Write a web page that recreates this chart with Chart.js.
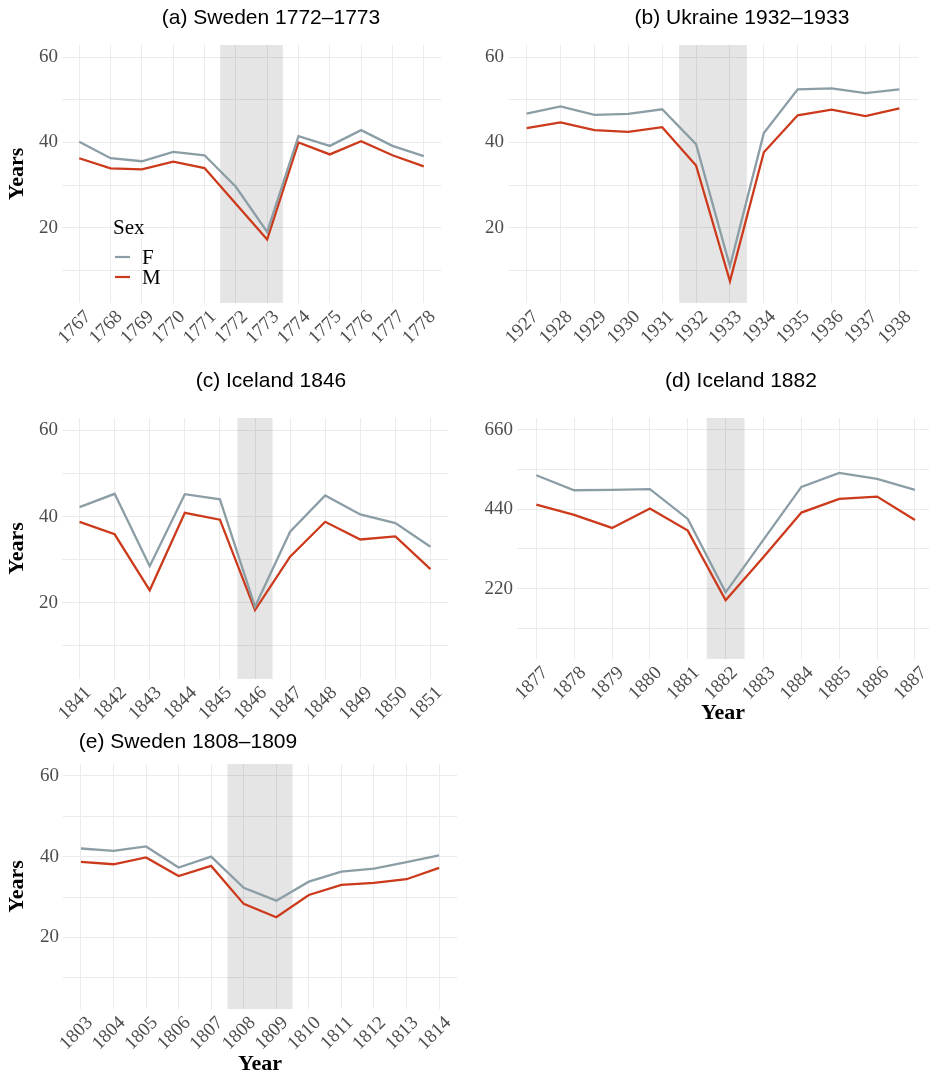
<!DOCTYPE html>
<html>
<head>
<meta charset="utf-8">
<script src="https://cdn.jsdelivr.net/npm/chart.js@4.4.1/dist/chart.umd.min.js"></script>
<style>
  body { margin: 0; background: #fff; overflow: hidden; }
  .panel { position: absolute; }
</style>
</head>
<body>
<div class="panel" style="left:0;top:0;width:465px;height:360px"><canvas id="chart-a"></canvas></div>
<div class="panel" style="left:465px;top:0;width:464px;height:360px"><canvas id="chart-b"></canvas></div>
<div class="panel" style="left:0;top:360px;width:465px;height:370px"><canvas id="chart-c"></canvas></div>
<div class="panel" style="left:465px;top:360px;width:464px;height:370px"><canvas id="chart-d"></canvas></div>
<div class="panel" style="left:0;top:730px;width:465px;height:346px"><canvas id="chart-e"></canvas></div>
<script>
// (a) Sweden 1772-1773
const swedenAYears = [1767, 1768, 1769, 1770, 1771, 1772, 1773, 1774, 1775, 1776, 1777, 1778];
const swedenAFemale = [40.2, 36.3, 35.6, 37.8, 37.0, 29.6, 19.0, 41.5, 39.2, 42.9, 39.2, 36.8];
const swedenAMale = [36.3, 33.9, 33.7, 35.5, 34.0, 25.6, 17.2, 40.0, 37.2, 40.3, 37.0, 34.4];

// (b) Ukraine 1932-1933
const ukraineYears = [1927, 1928, 1929, 1930, 1931, 1932, 1933, 1934, 1935, 1936, 1937, 1938];
const ukraineFemale = [46.8, 48.5, 46.5, 46.7, 47.8, 39.6, 10.9, 42.2, 52.5, 52.7, 51.6, 52.5];
const ukraineMale = [43.4, 44.7, 42.9, 42.5, 43.6, 34.6, 7.4, 37.7, 46.4, 47.7, 46.2, 48.0];

// (c) Iceland 1846
const iceland1846Years = [1841, 1842, 1843, 1844, 1845, 1846, 1847, 1848, 1849, 1850, 1851];
const iceland1846Female = [42.2, 45.3, 28.5, 45.2, 44.0, 19.1, 36.5, 44.9, 40.5, 38.5, 33.0];
const iceland1846Male = [38.8, 35.9, 22.9, 40.9, 39.3, 18.3, 30.7, 38.8, 34.7, 35.4, 27.8];

// (d) Iceland 1882
const iceland1882Years = [1877, 1878, 1879, 1880, 1881, 1882, 1883, 1884, 1885, 1886, 1887];
const iceland1882Female = [533.6, 492, 493, 495, 412.8, 209.8, 355.6, 501.3, 540, 523.5, 493];
const iceland1882Male = [452.4, 423.8, 387.9, 441.4, 380.5, 187.7, 307.6, 430.3, 468, 474.6, 410];

// (e) Sweden 1808-1809
const swedenEYears = [1803, 1804, 1805, 1806, 1807, 1808, 1809, 1810, 1811, 1812, 1813, 1814];
const swedenEFemale = [42.0, 41.4, 42.5, 37.3, 40.0, 32.3, 29.1, 33.8, 36.3, 37.0, 38.6, 40.3];
const swedenEMale = [38.7, 38.1, 39.8, 35.2, 37.7, 28.3, 25.0, 30.5, 33.0, 33.5, 34.4, 37.2];

const yTicksYears = [10, 20, 30, 40, 50, 60];
const yLabelsYears = [20, 40, 60];
const yTicksD = [110, 220, 330, 440, 550, 660];
const yLabelsD = [220, 440, 660];

const sexLabels = ['F', 'M'];
const colF = '#8b9ea5';
const colM = '#cc3a1c';
const tickColor = '#4d4d4d';
const gridColor = '#ebebeb';
const serif = "'Liberation Serif', 'DejaVu Serif', serif";
const sans = "'Liberation Sans', Arial, sans-serif";

// grey band over the crisis years
const shadePlugin = {
  id: 'shade',
  beforeDatasetsDraw(chart, args, opts) {
    const {ctx, chartArea, scales} = chart;
    const x0 = scales.x.getPixelForValue(opts.from);
    const x1 = scales.x.getPixelForValue(opts.to);
    ctx.save();
    ctx.fillStyle = 'rgba(0,0,0,0.1)';
    ctx.fillRect(x0, chartArea.top, x1 - x0, chartArea.bottom - chartArea.top);
    ctx.restore();
  }
};

// panel title + optional legend, drawn as text on the canvas
const labelsPlugin = {
  id: 'panelText',
  afterDraw(chart, args, opts) {
    const ctx = chart.ctx;
    ctx.save();
    ctx.fillStyle = '#000';
    ctx.font = '21px ' + sans;
    ctx.textAlign = 'center';
    ctx.textBaseline = 'middle';
    ctx.fillText(opts.title, opts.titleX, opts.titleY);
    if (opts.legend) {
      const lg = opts.legend;
      ctx.textAlign = 'left';
      ctx.font = '21px ' + serif;
      ctx.fillText('Sex', lg.x - 2, lg.y);
      chart.data.datasets.forEach((ds, i) => {
        const y = lg.y + 29 + i * 20;
        ctx.strokeStyle = ds.borderColor;
        ctx.lineWidth = 2.2;
        ctx.beginPath();
        ctx.moveTo(lg.x, y);
        ctx.lineTo(lg.x + 15, y);
        ctx.stroke();
        ctx.fillText(ds.label, lg.x + 27, y + 1);
      });
    }
    ctx.restore();
  }
};

function pts(years, vals) {
  return years.map((y, i) => ({x: y, y: vals[i]}));
}

function makePanel(id, p) {
  new Chart(document.getElementById(id), {
    type: 'line',
    data: {
      datasets: [
        {label: sexLabels[0], data: pts(p.years, p.female), borderColor: colF, borderWidth: 2.3, pointRadius: 0, tension: 0},
        {label: sexLabels[1], data: pts(p.years, p.male), borderColor: colM, borderWidth: 2.3, pointRadius: 0, tension: 0}
      ]
    },
    options: {
      responsive: true,
      maintainAspectRatio: false,
      animation: false,
      layout: {padding: p.padding},
      plugins: {
        legend: {display: false},
        tooltip: {enabled: false},
        shade: {from: p.shade[0], to: p.shade[1]},
        panelText: {title: p.title, titleX: p.titleX, titleY: p.titleY, legend: p.legend}
      },
      scales: {
        x: {
          type: 'linear',
          min: p.xMin,
          max: p.xMax,
          afterBuildTicks: s => { s.ticks = p.years.map(v => ({value: v})); },
          afterFit: s => { s.height = p.xHeight; s.paddingLeft = 0; s.paddingRight = 0; },
          border: {display: false},
          grid: {color: gridColor, lineWidth: 1, drawTicks: false},
          ticks: {
            color: tickColor,
            font: {family: serif, size: 19},
            maxRotation: 45,
            minRotation: 45,
            padding: 3,
            labelOffset: 9,
            autoSkip: false,
            callback: v => String(v)
          },
          title: p.xTitle ? {
            display: true, text: 'Year', color: '#000',
            font: {family: serif, size: 22, weight: 'bold', lineHeight: 1},
            padding: {bottom: p.xTitlePad, top: 0}
          } : {display: false}
        },
        y: {
          min: p.yMin,
          max: p.yMax,
          afterBuildTicks: s => { s.ticks = p.yTicks.map(v => ({value: v})); },
          afterFit: s => { s.width = p.yWidth; },
          border: {display: false},
          grid: {color: gridColor, lineWidth: 1, drawTicks: false},
          ticks: {
            color: tickColor,
            font: {family: serif, size: 19},
            padding: 4,
            callback: v => p.yLabels.includes(v) ? String(v) : ''
          },
          title: p.yTitle ? {
            display: true, text: 'Years', color: '#000',
            font: {family: serif, size: 22, weight: 'bold', lineHeight: 1},
            padding: {top: 6, bottom: 0}
          } : {display: false}
        }
      }
    },
    plugins: [shadePlugin, labelsPlugin]
  });
}

makePanel('chart-a', {
  years: swedenAYears, female: swedenAFemale, male: swedenAMale,
  shade: [1771.5, 1773.5], xMin: 1766.45, xMax: 1778.55,
  yMin: 2.3, yMax: 62.9, yTicks: yTicksYears, yLabels: yLabelsYears,
  padding: {top: 45, right: 24, left: 0, bottom: 0}, yWidth: 62, xHeight: 57,
  title: '(a) Sweden 1772\u20131773', titleX: 271, titleY: 18,
  yTitle: true, xTitle: false,
  legend: {x: 115, y: 228}
});

makePanel('chart-b', {
  years: ukraineYears, female: ukraineFemale, male: ukraineMale,
  shade: [1931.5, 1933.5], xMin: 1926.45, xMax: 1938.55,
  yMin: 2.3, yMax: 62.9, yTicks: yTicksYears, yLabels: yLabelsYears,
  padding: {top: 45, right: 11, left: 0, bottom: 0}, yWidth: 43, xHeight: 57,
  title: '(b) Ukraine 1932\u20131933', titleX: 277, titleY: 18,
  yTitle: false, xTitle: false
});

makePanel('chart-c', {
  years: iceland1846Years, female: iceland1846Female, male: iceland1846Male,
  shade: [1845.5, 1846.5], xMin: 1840.5, xMax: 1851.5,
  yMin: 2.3, yMax: 62.9, yTicks: yTicksYears, yLabels: yLabelsYears,
  padding: {top: 58, right: 17, left: 0, bottom: 0}, yWidth: 62, xHeight: 51,
  title: '(c) Iceland 1846', titleX: 271, titleY: 21,
  yTitle: true, xTitle: false
});

makePanel('chart-d', {
  years: iceland1882Years, female: iceland1882Female, male: iceland1882Male,
  shade: [1881.5, 1882.5], xMin: 1876.49, xMax: 1887.37,
  yMin: 25.3, yMax: 691.9, yTicks: yTicksD, yLabels: yLabelsD,
  padding: {top: 58, right: 0, left: 0, bottom: 0}, yWidth: 52, xHeight: 71,
  title: '(d) Iceland 1882', titleX: 276, titleY: 21,
  yTitle: false, xTitle: true, xTitlePad: 6
});

makePanel('chart-e', {
  years: swedenEYears, female: swedenEFemale, male: swedenEMale,
  shade: [1807.5, 1809.5], xMin: 1802.45, xMax: 1814.55,
  yMin: 2.3, yMax: 62.9, yTicks: yTicksYears, yLabels: yLabelsYears,
  padding: {top: 34, right: 8, left: 0, bottom: 0}, yWidth: 63, xHeight: 67,
  title: '(e) Sweden 1808\u20131809', titleX: 188, titleY: 12,
  yTitle: true, xTitle: true, xTitlePad: 1
});
</script>
</body>
</html>
